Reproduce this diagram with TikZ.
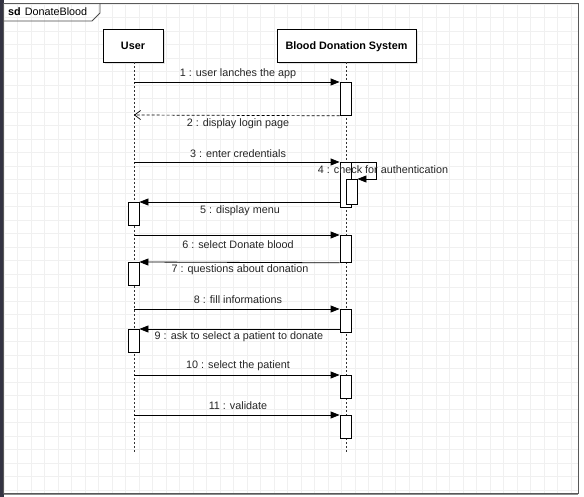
\documentclass[tikz,border=0pt]{standalone}
\usepackage{fontspec}
\setmainfont{Liberation Sans}
\usetikzlibrary{arrows.meta,calc}
\begin{document}
\begin{tikzpicture}[x=1pt,y=-1pt,
  every node/.style={font=\fontsize{10.8}{13}\selectfont},
  head/.style={draw=black,fill=white,minimum width=60,minimum height=33,inner sep=0,font=\fontsize{10.8}{13}\selectfont\bfseries,anchor=north,text depth=0pt,line width=0.8pt},
  life/.style={draw=black!80,dash pattern=on 2pt off 2pt,line width=0.7pt},
  act/.style={draw=black,fill=white,minimum width=11,inner sep=0,anchor=north,line width=0.8pt},
  msg/.style={-{Triangle[length=9pt,width=7pt]},line width=0.8pt},
  ret/.style={-{Straight Barb[length=6pt,width=9pt,line width=0.7pt]},dashed,dash pattern=on 3pt off 2pt,line width=0.7pt},
  lbl/.style={inner sep=0,text=black!85}
]
\useasboundingbox (0,0) rectangle (584,497);
\fill[white] (0,0) rectangle (584,497);
% grid
\foreach \i in {0,...,43} {\draw[black!6,line width=0.5pt] (4+\i*13.5,4) -- (4+\i*13.5,493);}
\foreach \j in {0,...,36} {\draw[black!6,line width=0.5pt] (4,4+\j*13.5) -- (578,4+\j*13.5);}
% left bar and frame
\fill[black!75!blue!30!black!80] (0,0) rectangle (3.5,497);
\draw[black!65,line width=0.8pt] (3.5,3.5) rectangle (578,493.5);
\draw[black!45,line width=1.2pt] (3.5,494.5) -- (578,494.5);
% sd tab
\draw[black!70,line width=0.8pt] (3.5,21) -- (92,21) -- (100,13) -- (100,3.5);
\node[anchor=west,inner sep=0] (sd) at (8,12) {\textbf{sd}\hspace{4pt}DonateBlood};
% heads
\fill[black!10] (105,31) rectangle (165,64);
\fill[black!10] (279,31) rectangle (418,64);
\node[head] (user) at (133,29) {User};
\node[head,minimum width=139] (sys) at (346.5,29) {Blood Donation System};
\coordinate (uend) at (134,453);
\coordinate (send) at (346,453);
\draw[life] (134,62) -- (uend);
\draw[life] (346,62) -- (send);
% activations
\node[act,minimum height=33] (a1) at (345.5,82) {};
\node[act,minimum height=45] (a3) at (345.5,162) {};
\node[act,minimum height=25] (a4) at (351.5,179) {};
\node[act,minimum height=23] (a5) at (133.5,202) {};
\node[act,minimum height=27] (a6) at (345.5,235) {};
\node[act,minimum height=23] (a7) at (133.5,262) {};
\node[act,minimum height=23] (a8) at (345.5,309) {};
\node[act,minimum height=23] (a9) at (133.5,329) {};
\node[act,minimum height=23] (a10) at (345.5,375) {};
\node[act,minimum height=23] (a11) at (345.5,415) {};
% user-side coordinates
\coordinate (u1) at (134,82);
\coordinate (u2) at (134,115);
\coordinate (u3) at (134,162);
\coordinate (u6) at (134,235);
\coordinate (u8) at (134,309);
\coordinate (u10) at (134,375);
\coordinate (u11) at (134,415);
\coordinate (loop) at (376,179);
% messages
\draw[msg] (u1) -- (a1.north west);
\draw[ret] (a1.south west) -- (u2);
\draw[msg] (u3) -- (a3.north west);
\draw[msg] (a3.north east) -| (loop) -- (a4.north east);
\draw[msg] (a3.west |- a5.north east) -- (a5.north east);
\draw[msg] (u6) -- (a6.north west);
\draw[msg] (a6.south west) -- (a7.north east);
\draw[msg] (u8) -- (a8.north west);
\draw[msg] (a8.west |- a9.north east) -- (a9.north east);
\draw[msg] (u10) -- (a10.north west);
\draw[msg] (u11) -- (a11.north west);
% labels
\node[lbl] (l1) at (238,74) {1 : user lanches the app};
\node[lbl] (l2) at (238,124) {2 : display login page};
\node[lbl] (l3) at (238,154) {3 : enter credentials};
\node[lbl] (l4) at (383,170) {4 : check for authentication};
\node[lbl] (l5) at (240,211) {5 : display menu};
\node[lbl] (l6) at (238,245) {6 : select Donate blood};
\node[lbl] (l7) at (240,270) {7 : questions about donation};
\node[lbl] (l8) at (238,300) {8 : fill informations};
\node[lbl] (l9) at (239,337) {9 : ask to select a patient to donate};
\node[lbl] (l10) at (238,366) {10 : select the patient};
\node[lbl] (l11) at (238,406) {11 : validate};
\end{tikzpicture}
\end{document}
